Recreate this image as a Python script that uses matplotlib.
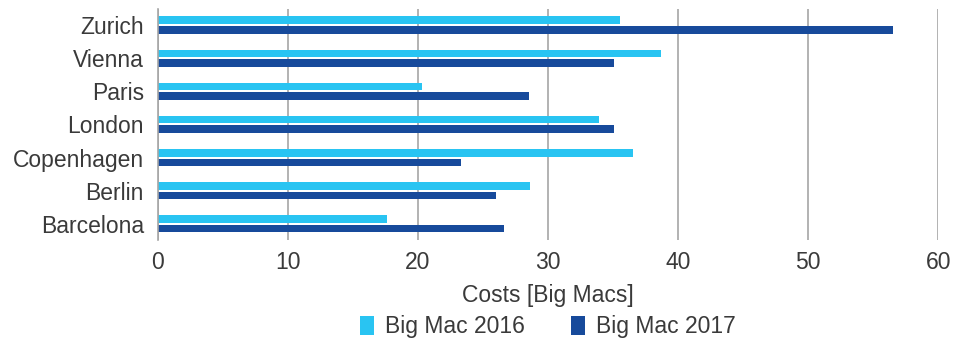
import numpy as np
import matplotlib.pyplot as plt

cities = ['Barcelona', 'Berlin', 'Copenhagen', 'London', 'Paris', 'Vienna', 'Zurich']
mac2016 = [17.6, 28.6, 36.5, 33.9, 20.3, 38.7, 35.5]
mac2017 = [26.6, 26.0, 23.3, 35.1, 28.5, 35.1, 56.5]

plt.rcParams['font.family'] = ['Liberation Sans', 'DejaVu Sans']
txt = '#3a3a3a'

fig = plt.figure(figsize=(9.58, 3.42), dpi=100)
ax = fig.add_axes([0.1646, 0.298, 0.815, 0.676])

y = np.arange(len(cities))
b1 = ax.barh(y + 0.15, mac2016, height=0.24, color='#29c4f2', label='Big Mac 2016')
b2 = ax.barh(y - 0.15, mac2017, height=0.24, color='#174a9b', label='Big Mac 2017')

ax.set_xlim(0, 60)
ax.set_ylim(-0.5, 6.5)
ax.set_yticks(y)
ax.set_yticklabels(cities)
ax.set_xticks(range(0, 61, 10))
ax.xaxis.grid(True, color='#a6a6a6', linewidth=1.2)
ax.set_axisbelow(True)
for s in ['top', 'right', 'bottom']:
    ax.spines[s].set_visible(False)
ax.spines['left'].set_color('#a6a6a6')
ax.spines['left'].set_linewidth(1.2)
ax.tick_params(length=0, labelsize=16.5, labelcolor=txt)
ax.tick_params(axis='y', pad=10)
ax.tick_params(axis='x', pad=8)
ax.set_xlabel('Costs [Big Macs]', fontsize=16.5, color=txt, labelpad=7)

fig.legend(handles=[b1, b2], loc='center', bbox_to_anchor=(0.572, 0.045), ncol=2,
           frameon=False, fontsize=16.5, labelcolor=txt, handlelength=0.6, handleheight=0.9,
           columnspacing=2.0, handletextpad=0.5)

fig.savefig('out.png', dpi=100)
